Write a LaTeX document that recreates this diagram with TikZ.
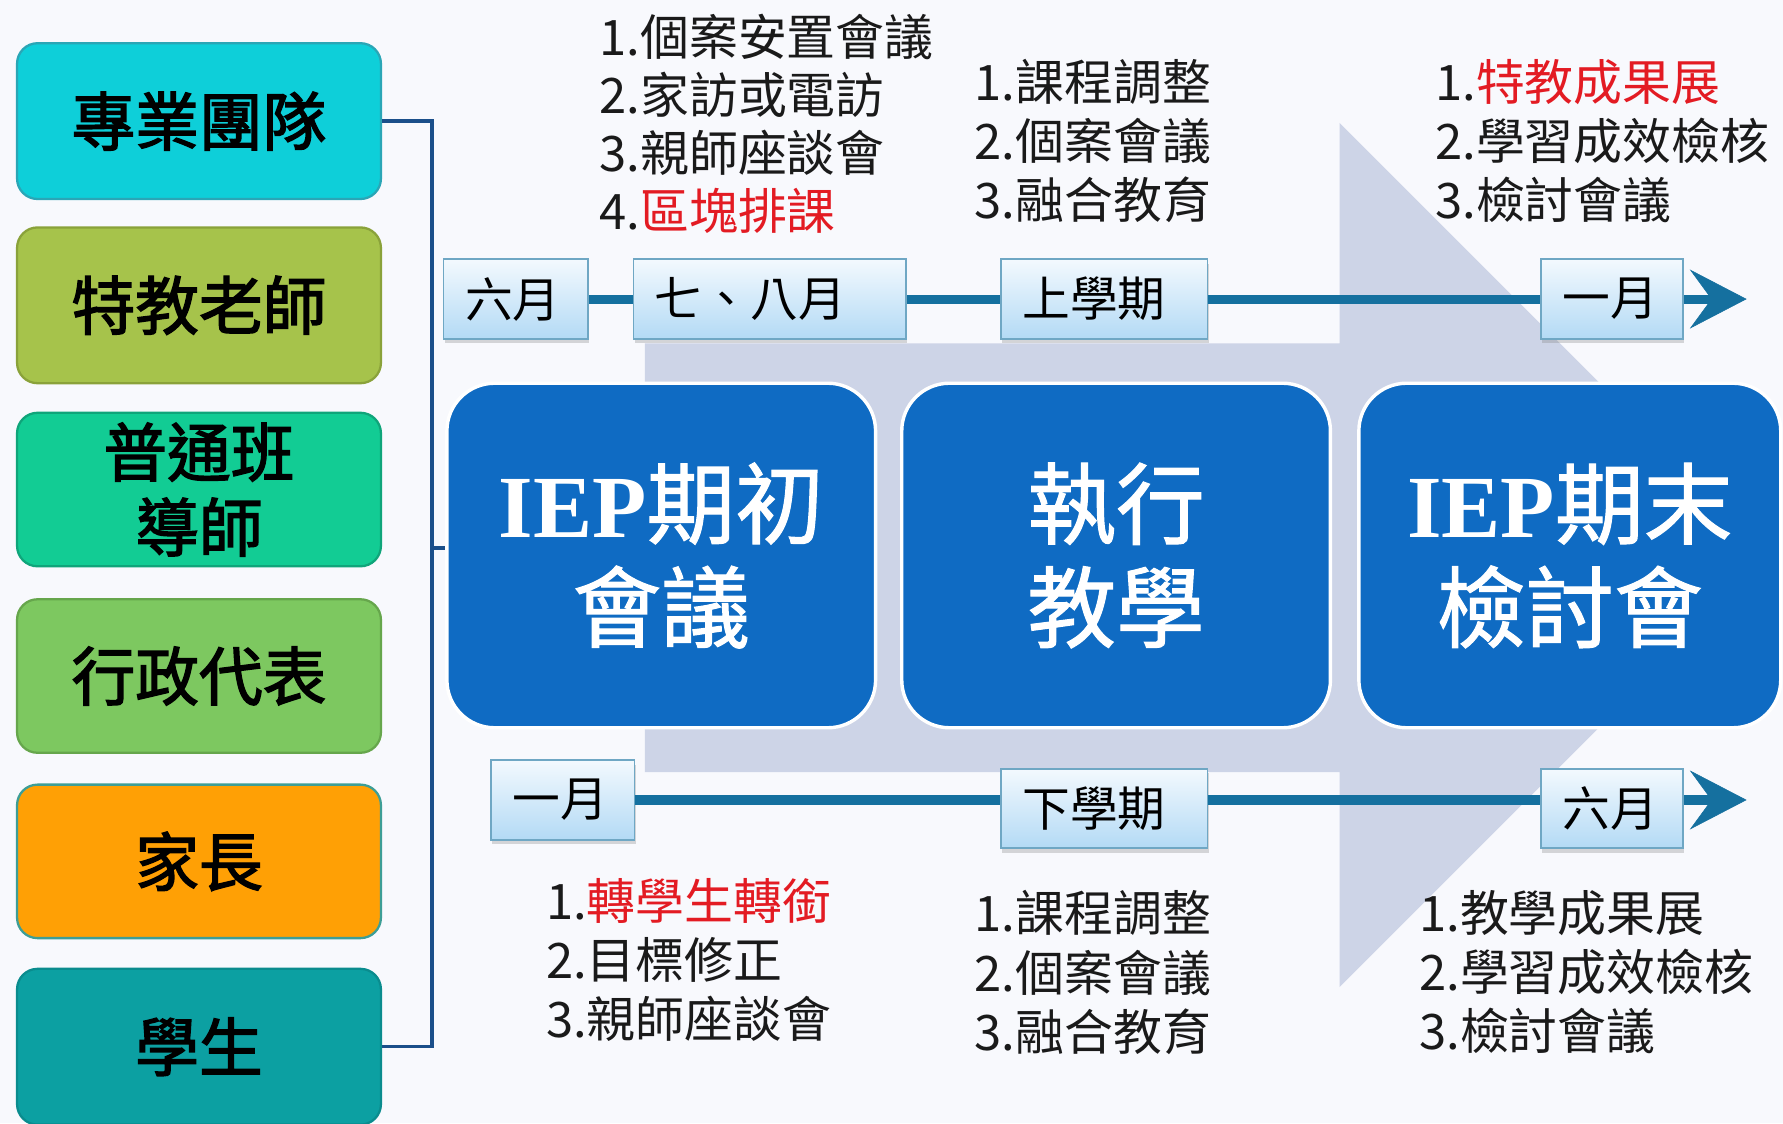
\documentclass[tikz,border=0pt]{standalone}
\usepackage{fontspec}
\setmainfont{Noto Sans CJK TC}
\newfontfamily\cjk{Noto Sans CJK TC}
\newfontfamily\cjkmb[FakeBold=2.2]{Noto Sans CJK TC}
\newfontfamily\cjkwb[FakeBold=1.2]{Noto Sans CJK TC}
\newfontfamily\iepfont{Liberation Serif}
\usetikzlibrary{shadows,arrows.meta}
\definecolor{bgc}{HTML}{F8F9FD}
\definecolor{lav}{HTML}{CDD4E7}
\definecolor{cA}{HTML}{0ECFD9}\definecolor{cAd}{HTML}{2AA6B6}
\definecolor{cB}{HTML}{A6C34B}\definecolor{cBd}{HTML}{8AA23A}
\definecolor{cC}{HTML}{12CC94}\definecolor{cCd}{HTML}{0FA57A}
\definecolor{cD}{HTML}{7DC860}\definecolor{cDd}{HTML}{66A64C}
\definecolor{cE}{HTML}{FFA005}\definecolor{cEd}{HTML}{3D9E96}
\definecolor{cF}{HTML}{0CA0A2}\definecolor{cFd}{HTML}{0A8C8E}
\definecolor{brkc}{HTML}{1B4F8A}
\definecolor{tlc}{HTML}{15709F}
\definecolor{bigc}{HTML}{0F6BC3}
\definecolor{mtop}{HTML}{F3F9FE}
\definecolor{mbot}{HTML}{B3DAF5}
\definecolor{mbrd}{HTML}{6FA7C4}
\definecolor{redt}{HTML}{E31B23}
\definecolor{txt}{HTML}{1A1A1A}
\begin{document}
\begin{tikzpicture}[x=1pt,y=-1pt,
  lbox/.style={rounded corners=18pt, line width=2pt, minimum width=320pt, inner sep=0pt,
    align=center, text=black, font=\fontsize{56}{66}\selectfont\cjkmb},
  bigbox/.style={rounded corners=42pt, fill=bigc, draw=white, line width=3pt,
    minimum height=303pt, inner sep=0pt, align=center, text=white,
    font=\fontsize{78}{91}\selectfont\cjkwb},
  mbox/.style={draw=mbrd, line width=1.5pt, top color=mtop, bottom color=mbot,
    minimum height=70pt, inner ysep=0pt, inner xsep=19pt, align=left,
    font=\fontsize{42}{50}\selectfont, text=black,
    drop shadow={opacity=0.3, shadow xshift=1pt, shadow yshift=-4pt}},
  lst/.style={anchor=north west, inner sep=0pt, align=left, text=txt,
    font=\fontsize{43}{52}\selectfont},
  tl/.style={draw=tlc, line width=8pt},
  brk/.style={draw=brkc, line width=3pt}]
\useasboundingbox (0,0) rectangle (1568,988);
\clip (0,0) rectangle (1568,988);
\fill[bgc] (0,0) rectangle (1568,988);
% background arrow
\fill[lav] (567,302) -- (1178,302) -- (1178,108) -- (1558,488) -- (1178,868) -- (1178,679) -- (567,679) -- cycle;

% left boxes
\node[lbox, fill=cA, draw=cAd, minimum height=137pt] (b1) at (175,106.5) {專業團隊};
\node[lbox, fill=cB, draw=cBd, minimum height=137pt] (b2) at (175,268.5) {特教老師};
\node[lbox, fill=cC, draw=cCd, minimum height=135pt] (b3) at (175,430.5) {普通班\\導師};
\node[lbox, fill=cD, draw=cDd, minimum height=135pt] (b4) at (175,594.5) {行政代表};
\node[lbox, fill=cE, draw=cEd, minimum height=135pt] (b5) at (175,757.5) {家長};
\node[lbox, fill=cF, draw=cFd, minimum height=137pt] (b6) at (175,920.5) {學生};

% bracket
\coordinate (bx) at (380,482);
\coordinate (tk) at (391,482);
\draw[brk] (b1.east) -| (bx) |- (b6.east);
\draw[brk] (bx) -- (tk);

% big boxes
\node[bigbox, minimum width=377pt] (A) at (581.5,488.5) {{\iepfont\bfseries IEP}期初\\會議};
\node[bigbox, minimum width=377pt] (B) at (981.5,488.5) {執行\\教學};
\node[bigbox, minimum width=371pt] (C) at (1380.5,488.5) {{\iepfont\bfseries IEP}期末\\檢討會};

% month boxes top
\node[mbox, text width=89pt] (m1) at (453.5,263) {六月};
\node[mbox, text width=202pt] (m2) at (677,263) {七、八月};
\node[mbox, text width=144pt] (m3) at (971,263) {上學期};
\node[mbox, text width=87pt] (m4) at (1417.5,263) {一月};
% month boxes bottom
\node[mbox, text width=88pt] (n1) at (495,703.5) {一月};
\node[mbox, text width=144pt] (n2) at (971,711) {下學期};
\node[mbox, text width=87pt] (n3) at (1417.5,711) {六月};

% timelines
\coordinate (t1e) at (1536,263);
\coordinate (t2e) at (1536,703.5);
\draw[tl] (m1.east) -- (m2.west);
\draw[tl] (m2.east) -- (m3.west);
\draw[tl] (m3.east) -- (m4.west);
\draw[tl, -{Stealth[length=50pt,width=52pt,inset=19pt,line width=0.5pt]}] (m4.east) -- (t1e);
\draw[tl] (n1.east) -- (n1.east -| n2.west);
\draw[tl] (n1.east -| n2.east) -- (n1.east -| n3.west);
\draw[tl, -{Stealth[length=50pt,width=52pt,inset=19pt,line width=0.5pt]}] (n1.east -| n3.east) -- (t2e);

% lists
\node[lst, font=\fontsize{43}{51}\selectfont] (L1) at (527,12) {1.個案安置會議\\2.家訪或電訪\\3.親師座談會\\4.\textcolor{redt}{區塊排課}};
\node[lst] (L2) at (857,52) {1.課程調整\\2.個案會議\\3.融合教育};
\node[lst] (L3) at (1262,52) {1.\textcolor{redt}{特教成果展}\\2.學習成效檢核\\3.檢討會議};
\node[lst] (L4) at (480,772) {1.\textcolor{redt}{轉學生轉銜}\\2.目標修正\\3.親師座談會};
\node[lst] (L5) at (857,783) {1.課程調整\\2.個案會議\\3.融合教育};
\node[lst] (L6) at (1248,783) {1.教學成果展\\2.學習成效檢核\\3.檢討會議};
\end{tikzpicture}
\end{document}
